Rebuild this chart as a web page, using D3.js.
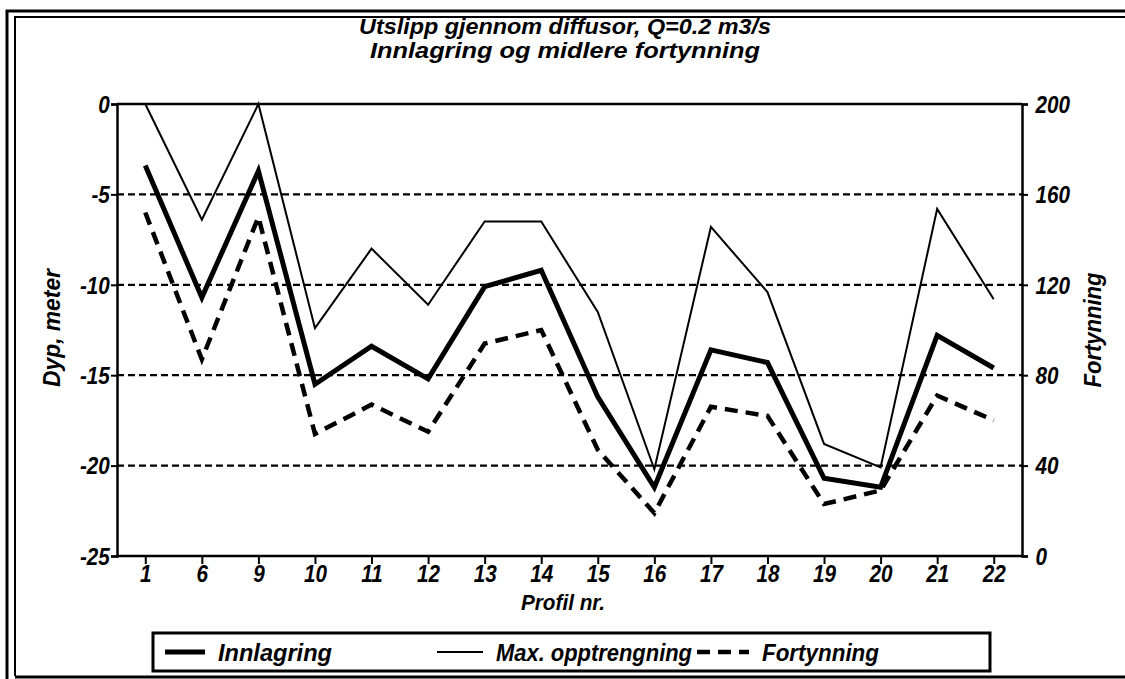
<!DOCTYPE html>
<html>
<head>
<meta charset="utf-8">
<script src="https://cdn.jsdelivr.net/npm/d3@7"></script>
<style>
  body { margin: 0; background: #fff; }
  text { font-family: "Liberation Sans Narrow", "Arial Narrow", "Liberation Sans", sans-serif; font-weight: bold; font-style: italic; fill: #000; }
</style>
</head>
<body>
<svg id="chart"></svg>
<script>
var width = 1125;
var height = 679;

// profile numbers along x
var profiles = ["1", "6", "9", "10", "11", "12", "13", "14", "15", "16", "17", "18", "19", "20", "21", "22"];
// depth, meter (left axis)
var innlagring = [-3.4, -10.7, -3.7, -15.5, -13.4, -15.2, -10.1, -9.2, -16.2, -21.2, -13.6, -14.3, -20.7, -21.2, -12.8, -14.6];
var maxOpptrengning = [0, -6.4, 0, -12.4, -8.0, -11.1, -6.5, -6.5, -11.5, -20.2, -6.8, -10.4, -18.8, -20.1, -5.8, -10.8];
// dilution (right axis)
var fortynning = [152, 87, 150, 54, 67, 55, 94, 100, 47, 19, 66, 62, 23, 29, 71, 60];

var leftTicks = [0, -5, -10, -15, -20, -25];
var rightTicks = [0, 40, 80, 120, 160, 200];

var margin = {left: 117, right: 103, top: 104, bottom: 124};
var narrow = 0.9;   // squeeze tick text, no condensed font installed

var svg = d3.select("#chart").attr("width", width).attr("height", height);

// text fitted to a given width (the original uses a condensed face)
function label(x, y, txt, size, len, anchor, rot) {
    return svg.append("text")
        .attr("transform", "translate(" + x + "," + y + ")" + (rot ? " rotate(" + rot + ")" : ""))
        .attr("text-anchor", anchor || "middle")
        .attr("textLength", len)
        .attr("lengthAdjust", "spacingAndGlyphs")
        .style("font-size", size + "px")
        .text(txt);
}

// outer double frame
svg.append("path").attr("d", "M7,679 L7,11 L1125,11").attr("fill", "none").attr("stroke", "#000").attr("stroke-width", 3);
svg.append("path").attr("d", "M15,676 L15,17 L1125,17").attr("fill", "none").attr("stroke", "#000").attr("stroke-width", 2);
svg.append("line").attr("x1", 15).attr("x2", 1125).attr("y1", 677).attr("y2", 677).attr("stroke", "#000").attr("stroke-width", 3);

var x = d3.scalePoint().domain(profiles)
    .range([margin.left, width - margin.right]).padding(0.5);
var y = d3.scaleLinear().domain([-25, 0]).range([height - margin.bottom + 1, margin.top]);
var y2 = d3.scaleLinear().domain([0, 200]).range([height - margin.bottom + 1, margin.top]);

var x0 = margin.left, x1 = width - margin.right;

// dashed grid
svg.append("g").selectAll("line")
    .data([-5, -10, -15, -20])
    .enter().append("line")
    .attr("x1", x0).attr("x2", x1)
    .attr("y1", function(d){ return y(d); }).attr("y2", function(d){ return y(d); })
    .attr("stroke", "#000").attr("stroke-width", 2.2).attr("stroke-dasharray", "7,4");

// top line
svg.append("line").attr("x1", x0).attr("x2", x1).attr("y1", y(0)).attr("y2", y(0))
    .attr("stroke", "#000").attr("stroke-width", 2.5);

// left axis
var gl = svg.append("g").attr("transform", "translate(" + x0 + ",0)")
    .call(d3.axisLeft(y).tickValues(leftTicks).tickSize(6).tickPadding(2).tickFormat(d3.format("d")));
gl.select(".domain").attr("stroke-width", 2.5);
gl.selectAll(".tick line").attr("stroke-width", 2);
gl.selectAll("text").style("font-size", "23px").attr("dy", "0.36em")
    .attr("transform", "scale(" + narrow + ",1)")
    .text(function(d){ return String(d).replace("−", "-"); });

// right axis
var gr = svg.append("g").attr("transform", "translate(" + x1 + ",0)")
    .call(d3.axisRight(y2).tickValues(rightTicks).tickSize(6).tickPadding(9));
gr.select(".domain").attr("stroke-width", 2.5);
gr.selectAll(".tick line").attr("stroke-width", 2);
gr.selectAll("text").style("font-size", "23px").attr("dy", "0.36em")
    .attr("transform", "scale(" + narrow + ",1)");

// bottom axis
var gb = svg.append("g").attr("transform", "translate(0," + y(-25) + ")")
    .call(d3.axisBottom(x).tickSize(8).tickPadding(2));
gb.select(".domain").attr("d", "M" + x0 + ",0H" + x1).attr("stroke-width", 2.5);
gb.selectAll(".tick line").attr("stroke-width", 2);
gb.selectAll("text").style("font-size", "23px").attr("transform", "scale(" + narrow + ",1)");

// lines
var lineL = d3.line().x(function(d, i){ return x(profiles[i]); }).y(function(d){ return y(d); });
var lineR = d3.line().x(function(d, i){ return x(profiles[i]); }).y(function(d){ return y2(d); });

svg.append("path").datum(maxOpptrengning).attr("d", lineL)
    .attr("fill", "none").attr("stroke", "#000").attr("stroke-width", 2).attr("stroke-linejoin", "miter");
svg.append("path").datum(fortynning).attr("d", lineR)
    .attr("fill", "none").attr("stroke", "#000").attr("stroke-width", 4.5).attr("stroke-dasharray", "13,8");
svg.append("path").datum(innlagring).attr("d", lineL)
    .attr("fill", "none").attr("stroke", "#000").attr("stroke-width", 5).attr("stroke-linejoin", "miter");

// titles
label(565, 34, "Utslipp gjennom diffusor, Q=0.2 m3/s", 22, 412);
label(565, 58, "Innlagring og midlere fortynning", 22, 390);
label(563, 610, "Profil nr.", 22, 84);
label(60, 328, "Dyp, meter", 23, 118, "middle", -90);
label(1101, 330, "Fortynning", 23, 115, "middle", -90);

// legend
svg.append("rect").attr("x", 153).attr("y", 633).attr("width", 837).attr("height", 38)
    .attr("fill", "none").attr("stroke", "#000").attr("stroke-width", 3);
var legendItems = [
    {name: "Innlagring", x: 165, len: 40, w: 5, dash: null, tw: 114},
    {name: "Max. opptrengning", x: 437, len: 46, w: 2, dash: null, tw: 196},
    {name: "Fortynning", x: 697, len: 52, w: 4.5, dash: "13,8", tw: 117}
];
legendItems.forEach(function(d){
    svg.append("line").attr("x1", d.x).attr("x2", d.x + d.len).attr("y1", 652).attr("y2", 652)
        .attr("stroke", "#000").attr("stroke-width", d.w).attr("stroke-dasharray", d.dash);
    label(d.x + d.len + 13, 661, d.name, 23, d.tw, "start");
});
</script>
</body>
</html>
